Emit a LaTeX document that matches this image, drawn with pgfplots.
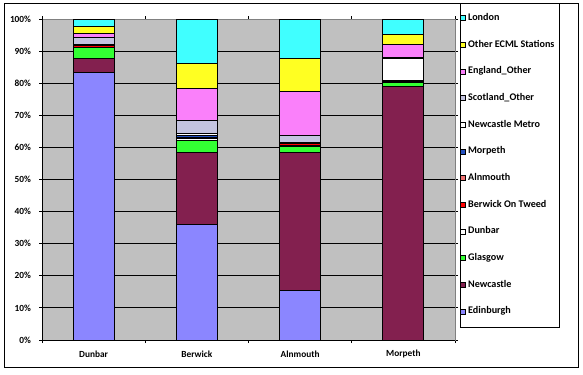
\documentclass[border=0pt]{standalone}
\usepackage{pgfplots}
\pgfplotsset{compat=1.18}
\usepackage{fontspec}
\setmainfont{Carlito}
\definecolor{plotgray}{HTML}{C0C0C0}
\definecolor{bordergray}{HTML}{808080}
\definecolor{cEdin}{HTML}{8B86FF}
\definecolor{cNew}{HTML}{83204F}
\definecolor{cGla}{HTML}{33FF33}
\definecolor{cDun}{HTML}{FFFFFF}
\definecolor{cBer}{HTML}{FF0000}
\definecolor{cAln}{HTML}{F07070}
\definecolor{cMor}{HTML}{2450C0}
\definecolor{cMet}{HTML}{FFFFFF}
\definecolor{cSco}{HTML}{C4C4E0}
\definecolor{cEng}{HTML}{FA80FA}
\definecolor{cECML}{HTML}{FFFF22}
\definecolor{cLon}{HTML}{40FFFF}
\newcommand{\lblfont}{\bfseries\fontsize{7}{8}\selectfont}
\newcommand{\legfont}{\bfseries\fontsize{7.6}{8}\selectfont}
\begin{document}
\begin{tikzpicture}
\begin{axis}[
  scale only axis, width=309.75pt, height=240.75pt, clip=false,
  xmin=-0.5, xmax=3.5, ymin=0, ymax=100,
  ybar stacked, bar width=30.75pt,
  every axis plot/.append style={draw=black, line width=0.75pt,
    legend image code/.code={\draw[#1, draw=black, line width=0.6pt] (0pt,-1.9pt) rectangle (3.8pt,1.9pt);}},
  axis background/.style={fill=plotgray},
  axis line style={draw=bordergray, line width=0.75pt},
  /pgf/number format/assume math mode=true,
  ytick={0,10,...,100},
  yticklabel={\pgfmathprintnumber{\tick}\%},
  ymajorgrids, major grid style={black, line width=0.75pt},
  xtick={-0.5,0.5,1.5,2.5,3.5}, xticklabels={,,,,},
  extra x ticks={0,1,2,3},
  extra x tick labels={Dunbar,Berwick,Alnmouth,Morpeth},
  extra x tick style={major tick length=0pt, tick style={draw=none}},
  tick align=outside, major tick length=2.25pt,
  tick style={black, line width=0.75pt},
  tick label style={font=\lblfont, text=black},
  xticklabel style={anchor=center, inner sep=0pt, yshift=-10.5pt},
  yticklabel style={anchor=east, inner sep=0pt, xshift=-5.8pt},
  reverse legend,
  legend cell align=left,
  legend style={draw=none, fill=none, at={(1.0121,1.0165)}, anchor=north west,
    inner sep=0pt, row sep=13.5pt, column sep=1.5pt, font=\legfont,
    nodes={inner sep=0pt, text height=5pt, text depth=1.5pt}},
]
\addplot[fill=cEdin] coordinates {(0,83.4) (1,35.9) (2,15.3) (3,0)};
\addplot[fill=cNew] coordinates {(0,4.3) (1,22.6) (2,43.2) (3,79.1)};
\addplot[fill=cGla] coordinates {(0,3.4) (1,3.7) (2,1.9) (3,1.2)};
\addplot[fill=cDun] coordinates {(0,0) (1,0.6) (2,0.3) (3,0.2)};
\addplot[fill=cBer] coordinates {(0,0.6) (1,0) (2,0.4) (3,0.2)};
\addplot[fill=cAln] coordinates {(0,0.2) (1,0.3) (2,0) (3,0.2)};
\addplot[fill=cMor] coordinates {(0,0.1) (1,0.5) (2,0.2) (3,0)};
\addplot[fill=cMet] coordinates {(0,0.1) (1,0.6) (2,0.3) (3,6.8)};
\addplot[fill=cSco] coordinates {(0,2.2) (1,4.3) (2,2.0) (3,0.4)};
\addplot[fill=cEng] coordinates {(0,1.3) (1,10.0) (2,13.9) (3,4.1)};
\addplot[fill=cECML] coordinates {(0,2.2) (1,7.6) (2,10.3) (3,3.1)};
\addplot[fill=cLon] coordinates {(0,2.2) (1,13.9) (2,12.2) (3,4.7)};
\legend{Edinburgh,Newcastle,Glasgow,Dunbar,Berwick On Tweed,Alnmouth,Morpeth,Newcastle Metro,Scotland\_Other,England\_Other,Other ECML Stations,London}
\draw[black, line width=0.75pt] (rel axis cs:0,1) -- (rel axis cs:0,0) -- (rel axis cs:1,0);
\path (rel axis cs:-0.1017,-0.1059) rectangle (rel axis cs:1.3099,1.0592);
\draw[black, line width=0.75pt] (rel axis cs:-0.0896,-0.0841) rectangle (rel axis cs:1.2978,1.0498);
\draw[black, line width=0.75pt] (rel axis cs:1.0121,0.0405) rectangle (rel axis cs:1.2518,1.0498);
\end{axis}
\end{tikzpicture}
\end{document}
